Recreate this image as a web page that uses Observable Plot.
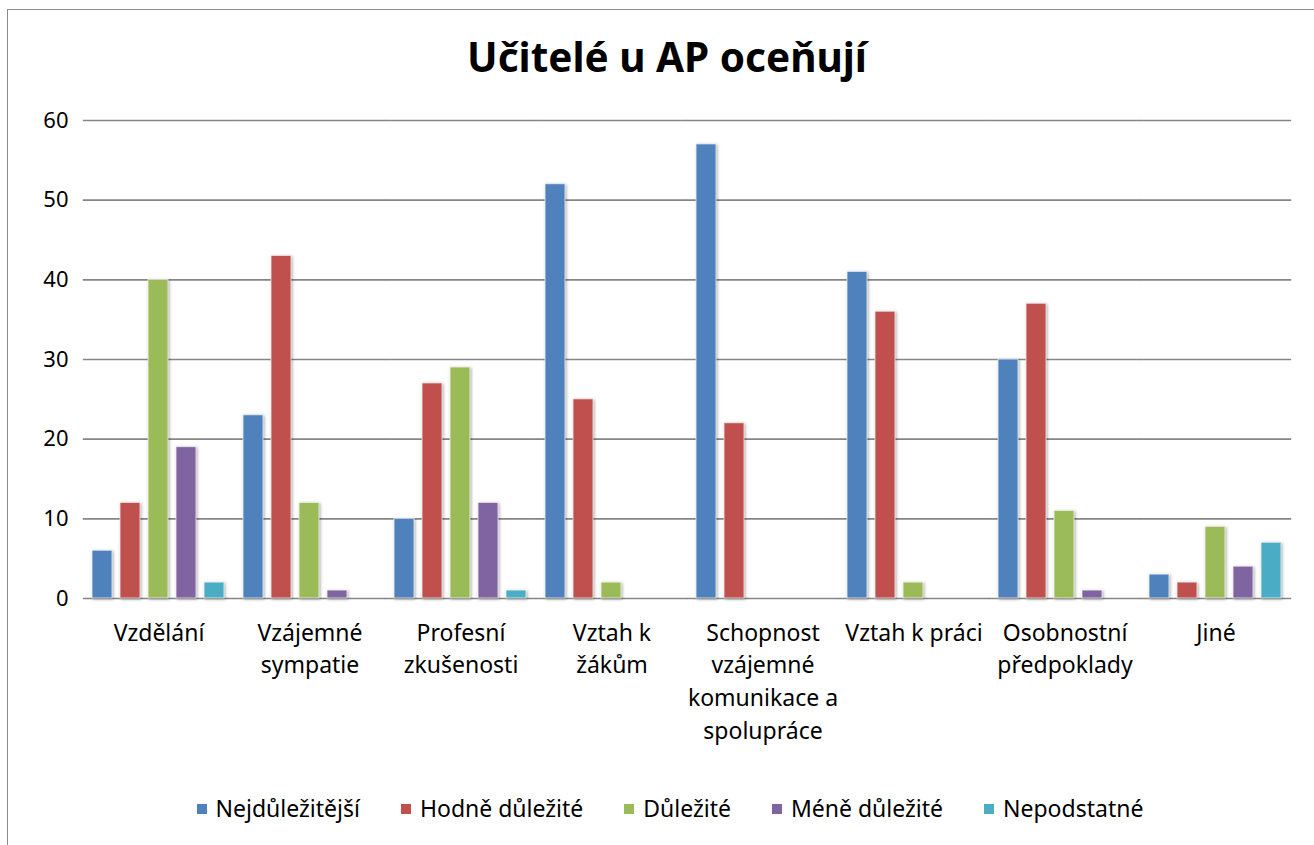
<!DOCTYPE html>
<html>
<head>
<meta charset="utf-8">
<script src="https://cdn.jsdelivr.net/npm/d3@7"></script>
<script src="https://cdn.jsdelivr.net/npm/@observablehq/plot@0.6"></script>
<style>
  html, body { margin: 0; padding: 0; background: #fff; overflow: hidden; }
  body { width: 1314px; height: 845px; position: relative; font-family: "Noto Sans", "Open Sans", sans-serif; }
  #frame { position: absolute; left: 7px; top: 9px; width: 1400px; height: 900px; border-left: 1px solid #8c8c8c; border-top: 1px solid #8c8c8c; }
  #title { position: absolute; left: 10px; top: 33px; width: 1314px; text-align: center; font-size: 40.5px; font-weight: 700; color: #000; line-height: 1.2; }
  #chart { position: absolute; left: 0; top: 100px; }
  #legend { position: absolute; left: 0; top: 794px; width: 1314px; display: flex; justify-content: center; font-size: 23px; color: #000; padding-left: 26px; box-sizing: border-box; line-height: 1.3; }
  .item { display: flex; align-items: center; margin-right: 41px; }
  .item:last-child { margin-right: 0; }
  .sw { width: 10px; height: 10px; margin-right: 9px; margin-top: 1px; }
</style>
</head>
<body>
<div id="frame"></div>
<div id="title">Učitelé u AP oceňují</div>
<div id="chart"></div>
<div id="legend"></div>
<script>
const categories = ["Vzdělání", "Vzájemné sympatie", "Profesní zkušenosti", "Vztah k žákům", "Schopnost vzájemné komunikace a spolupráce", "Vztah k práci", "Osobnostní předpoklady", "Jiné"];
const categoryLabels = ["Vzdělání", "Vzájemné\nsympatie", "Profesní\nzkušenosti", "Vztah k\nžákům", "Schopnost\nvzájemné\nkomunikace a\nspolupráce", "Vztah k práci", "Osobnostní\npředpoklady", "Jiné"];
const seriesNames = ["Nejdůležitější", "Hodně důležité", "Důležité", "Méně důležité", "Nepodstatné"];
const nejdulezitejsi = [6, 23, 10, 52, 57, 41, 30, 3];
const hodneDulezite = [12, 43, 27, 25, 22, 36, 37, 2];
const dulezite = [40, 12, 29, 2, 0, 2, 11, 9];
const meneDulezite = [19, 1, 12, 0, 0, 0, 1, 4];
const nepodstatne = [2, 0, 1, 0, 0, 0, 0, 7];
const seriesColors = ["#4F81BD", "#C0504D", "#9BBB59", "#8064A2", "#4BACC6"];
const yTicks = [0, 10, 20, 30, 40, 50, 60];

const seriesValues = [nejdulezitejsi, hodneDulezite, dulezite, meneDulezite, nepodstatne];
const data = categories.flatMap((c, i) => seriesNames.map((s, j) => ({category: c, series: s, value: seriesValues[j][i]})));
const labelOf = new Map(categories.map((c, i) => [c, categoryLabels[i]]));

const chart = Plot.plot({
  width: 1314,
  height: 670,
  marginLeft: 83,
  marginRight: 24,
  marginTop: 20,
  marginBottom: 172,
  style: {fontSize: "22px", fontFamily: "'Noto Sans', 'Open Sans', sans-serif", color: "#000", background: "transparent"},
  fx: {domain: categories, paddingInner: 0.12, paddingOuter: 0.05, axis: null, label: null},
  x: {domain: seriesNames, paddingInner: 0.27, paddingOuter: 0, axis: null},
  y: {domain: [0, 60], ticks: yTicks, tickSize: 0, tickPadding: 24, label: null},
  color: {domain: seriesNames, range: seriesColors},
  marks: [
    Plot.ruleY(yTicks, {stroke: "#868686", strokeWidth: 1.6, insetLeft: -9.2, insetRight: -9.2}),
    Plot.barY(data, {
      fx: "category", x: "series", y: "value", fill: "series",
      filter: d => d.value > 0,
      stroke: "#ffffff", strokeWidth: 1, strokeOpacity: 0.7
    }),
    Plot.text(categories, {
      fx: d => d, text: d => labelOf.get(d),
      frameAnchor: "bottom", lineAnchor: "top", dy: 19, lineHeight: 1.42,
      fontSize: 23, fill: "#000"
    })
  ]
});
document.getElementById("chart").appendChild(chart);
d3.select(chart).selectAll("g[aria-label=bar]").style("filter", "drop-shadow(1.5px 1.5px 1.5px rgba(0,0,0,0.35))");

const legend = d3.select("#legend");
seriesNames.forEach((s, i) => {
  const it = legend.append("div").attr("class", "item");
  it.append("div").attr("class", "sw").style("background", seriesColors[i]);
  it.append("span").text(s);
});
</script>
</body>
</html>
